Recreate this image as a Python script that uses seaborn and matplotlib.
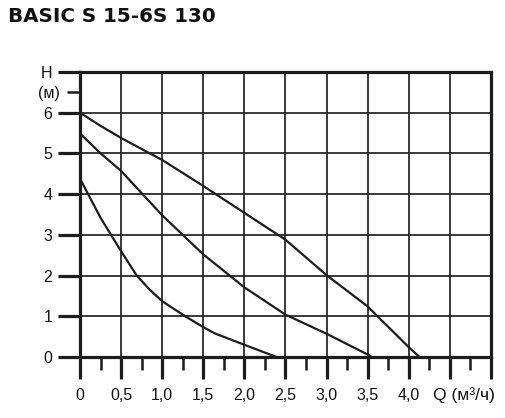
import matplotlib
matplotlib.use("Agg")
import matplotlib.pyplot as plt
import seaborn as sns
import pandas as pd
import numpy as np

# Data
q_curve1 = [0.0, 0.24, 0.5, 0.85, 1.0, 1.5, 2.0, 2.5, 3.0, 3.5, 3.62, 4.0, 4.13]
h_curve1 = [6.0, 5.69, 5.38, 5.0, 4.84, 4.2, 3.54, 2.88, 2.01, 1.24, 1.0, 0.24, 0.0]

q_curve2 = [0.0, 0.24, 0.5, 1.0, 1.5, 2.0, 2.5, 3.0, 3.5, 3.55]
h_curve2 = [5.49, 5.02, 4.57, 3.48, 2.52, 1.71, 1.04, 0.57, 0.06, 0.0]

q_curve3 = [0.0, 0.25, 0.49, 0.69, 0.85, 1.0, 1.28, 1.52, 1.64, 2.0, 2.39]
h_curve3 = [4.38, 3.42, 2.63, 2.0, 1.65, 1.37, 1.0, 0.71, 0.58, 0.3, 0.0]

x_tick_vals = [0, 0.5, 1.0, 1.5, 2.0, 2.5, 3.0, 3.5, 4.0, 4.5, 5.0]
x_tick_labels = ["0", "0,5", "1,0", "1,5", "2,0", "2,5", "3,0", "3,5", "4,0", "", ""]
y_tick_vals = [0, 1, 2, 3, 4, 5, 6, 7]
y_tick_labels = ["0", "1", "2", "3", "4", "5", "6", "H"]
title = "BASIC S 15-6S 130"
x_unit_label = "Q (м³/ч)"
y_unit_label = "(м)"

sns.set_theme(style="white")
plt.rcParams['font.family'] = ['Liberation Sans', 'DejaVu Sans']

fig = plt.figure(figsize=(5.06, 4.18), dpi=100)
ax = fig.add_axes([80/506, 1-357/418, (491-80)/506, (357-72)/418])

dark = "#1c1c1c"
for q, h in [(q_curve1, h_curve1), (q_curve2, h_curve2), (q_curve3, h_curve3)]:
    df = pd.DataFrame({"Q": q, "H": h})
    sns.lineplot(data=df, x="Q", y="H", sort=False, color=dark, lw=1.6, ax=ax)
for line in ax.get_lines():
    line.set_solid_joinstyle("round")

ax.set_xlim(0, 5.0)
ax.set_ylim(0, 7.0)
ax.set_xlabel("")
ax.set_ylabel("")

for v in x_tick_vals[1:-1]:
    ax.axvline(v, color="#2a2a2a", lw=1.3, zorder=0.5)
for v in y_tick_vals[1:-1]:
    ax.axhline(v, color="#2a2a2a", lw=1.3, zorder=0.5)

for s in ax.spines.values():
    s.set_color(dark)
    s.set_linewidth(2.3)
    s.set_visible(True)

ax.set_xticks(x_tick_vals)
ax.set_xticklabels(x_tick_labels)
ax.set_xticks(np.arange(0.25, 5.0, 0.5), minor=True)
ax.set_yticks(y_tick_vals)
ax.set_yticklabels(y_tick_labels)
ax.set_yticks([6.5], minor=True)
ax.set_yticklabels([y_unit_label], minor=True)

ax.tick_params(axis="both", which="major", direction="out", length=16, width=2.3,
               color=dark, labelsize=11.5, labelcolor="#111111", pad=4,
               bottom=True, left=True)
ax.tick_params(axis="both", which="minor", direction="out", length=9.5, width=1.8,
               color=dark, labelsize=11.5, labelcolor="#111111", pad=4,
               bottom=True, left=True)
ax.tick_params(axis="y", which="minor", pad=5)
ax.tick_params(axis="x", which="major", pad=6)

ax.annotate(x_unit_label, xy=(4.30, 0), xycoords=("data", "axes fraction"),
            xytext=(0, -22), textcoords="offset points", ha="left", va="top",
            fontsize=12.5, color="#111111")

fig.text(8/506, 1-17/418, title, ha="left", va="center", fontsize=14.3,
         fontweight="bold", family="DejaVu Sans", color="#111111")

fig.savefig("out.png", dpi=100, facecolor="white")
